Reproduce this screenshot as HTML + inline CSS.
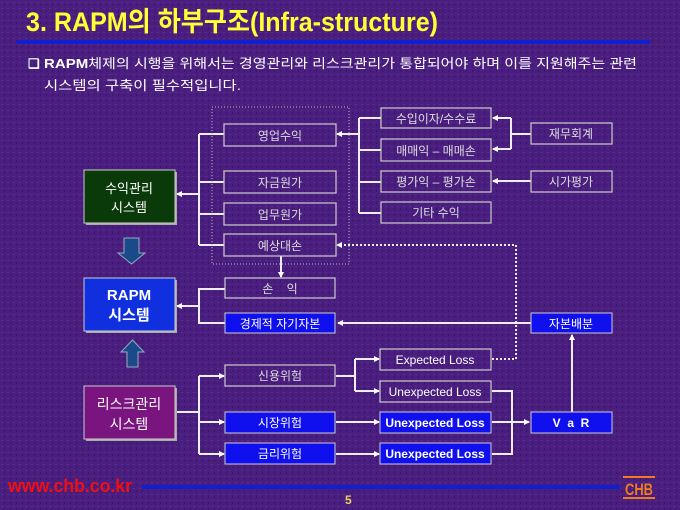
<!DOCTYPE html>
<html><head><meta charset="utf-8"><style>
html,body{margin:0;padding:0;width:680px;height:510px;overflow:hidden;background:#4a1e7e}
svg{display:block}
text{font-family:"Liberation Sans","Noto Sans CJK KR",sans-serif}
</style></head><body>
<svg width="680" height="510" viewBox="0 0 680 510" xmlns="http://www.w3.org/2000/svg">
<defs>
<marker id="a" markerWidth="6" markerHeight="6" refX="5" refY="3" orient="auto" markerUnits="userSpaceOnUse"><path d="M0,0 L6,3 L0,6 z" fill="#fff"/></marker>
<pattern id="n" width="6" height="6" patternUnits="userSpaceOnUse"><rect width="6" height="6" fill="#4a1e7e"/><rect x="1" y="2" width="2" height="1" fill="#5a2e90"/><rect x="4" y="4" width="1" height="2" fill="#3c1468"/></pattern>
</defs>
<rect width="680" height="510" fill="url(#n)"/>
<text x="26" y="31" font-size="27" font-weight="bold" fill="#ffff33" textLength="412" lengthAdjust="spacingAndGlyphs">3. RAPM의 하부구조(Infra-structure)</text>
<rect x="17" y="40" width="633" height="4" fill="#1020d0"/>
<text x="28" y="68" font-size="13" fill="#fff" font-weight="bold">❑</text>
<text x="44" y="68" font-size="13" fill="#fff" textLength="593" lengthAdjust="spacingAndGlyphs"><tspan font-weight="bold">RAPM</tspan>체제의 시행을 위해서는 경영관리와 리스크관리가 통합되어야 하며 이를 지원해주는 관련</text>
<text x="44" y="90" font-size="13" fill="#fff" textLength="197" lengthAdjust="spacingAndGlyphs">시스템의 구축이 필수적입니다.</text>

<g stroke="#eee" stroke-width="2" fill="none">
<path d="M199,134 V245 M199,134 H224 M199,182 H224 M199,214 H224 M199,245 H224"/>
<path d="M199,194 H177" marker-end="url(#a)"/>
<path d="M359,118 V213 M359,118 H381 M359,150 H381 M359,182 H381 M359,213 H381"/>
<path d="M359,134 H337" marker-end="url(#a)"/>
<path d="M531,134 H511 M511,118 V149"/>
<path d="M511,118 H493" marker-end="url(#a)"/>
<path d="M511,149 H493" marker-end="url(#a)"/>
<path d="M531,181 H493" marker-end="url(#a)"/>
<path d="M281,256 V277" marker-end="url(#a)"/>
<path d="M225,289 H199 V323 H225"/>
<path d="M199,306 H177" marker-end="url(#a)"/>
<path d="M531,323 H338" marker-end="url(#a)"/>
<path d="M572,412 V335" marker-end="url(#a)"/>
<path d="M176,412 H199 M199,376 V454"/>
<path d="M199,376 H224" marker-end="url(#a)"/>
<path d="M199,422 H224" marker-end="url(#a)"/>
<path d="M199,454 H224" marker-end="url(#a)"/>
<path d="M336,376 H355 M355,359 V391"/>
<path d="M355,359 H379" marker-end="url(#a)"/>
<path d="M355,391 H379" marker-end="url(#a)"/>
<path d="M336,422 H379" marker-end="url(#a)"/>
<path d="M336,454 H379" marker-end="url(#a)"/>
<path d="M492,391 H512 V454 H492 M512,422 H492"/>
<path d="M512,422 H529" marker-end="url(#a)"/>
</g>
<rect x="212" y="107" width="137" height="157" fill="none" stroke="#bbb" stroke-width="1" stroke-dasharray="1,2"/>
<path d="M492,359 H516 V245 H340" fill="none" stroke="#eee" stroke-width="2" stroke-dasharray="2,2"/>
<path d="M336,245 l6,-3 v6 z" fill="#fff"/>

<g fill="none" stroke="#ccc" stroke-width="1.2">
<rect x="224" y="124" width="112" height="22"/>
<rect x="224" y="171" width="112" height="22"/>
<rect x="224" y="203" width="112" height="22"/>
<rect x="224" y="234" width="112" height="22"/>
<rect x="381" y="108" width="110" height="20"/>
<rect x="381" y="139" width="110" height="22"/>
<rect x="381" y="171" width="110" height="21"/>
<rect x="381" y="202" width="110" height="21"/>
<rect x="531" y="123" width="81" height="21"/>
<rect x="531" y="171" width="81" height="21"/>
<rect x="225" y="278" width="110" height="20"/>
<rect x="225" y="365" width="110" height="21"/>
<rect x="380" y="349" width="111" height="21"/>
<rect x="380" y="381" width="111" height="21"/>
</g>
<g fill="#1010ee" stroke="#ccc" stroke-width="1">
<rect x="225" y="313" width="110" height="20"/>
<rect x="531" y="313" width="81" height="20"/>
<rect x="225" y="412" width="110" height="21"/>
<rect x="225" y="443" width="110" height="21"/>
<rect x="380" y="412" width="111" height="21"/>
<rect x="380" y="443" width="111" height="21"/>
<rect x="531" y="412" width="81" height="21"/>
</g>
<rect x="86" y="172" width="91" height="53" fill="#aaa"/>
<rect x="84" y="170" width="91" height="53" fill="#0a3a0a" stroke="#ccc"/>
<rect x="86" y="280" width="91" height="53" fill="#aaa"/>
<rect x="84" y="278" width="91" height="53" fill="#1030e0" stroke="#ccc"/>
<rect x="86" y="388" width="91" height="53" fill="#aaa"/>
<rect x="84" y="386" width="91" height="53" fill="#7a1580" stroke="#ccc"/>
<path d="M124,238 H139 V253 H145 L131.5,264 L118,253 H124 Z" fill="#1a4a8a" stroke="#9ab" stroke-width="1"/>
<path d="M127,367 H138 V352 H144 L132.5,340 L121,352 H127 Z" fill="#1a4a8a" stroke="#9ab" stroke-width="1"/>

<g font-size="12" fill="#ddd" text-anchor="middle">
<text x="280" y="140">영업수익</text>
<text x="280" y="187">자금원가</text>
<text x="280" y="219">업무원가</text>
<text x="280" y="250">예상대손</text>
<text x="436" y="123">수입이자/수수료</text>
<text x="436" y="155">매매익 – 매매손</text>
<text x="436" y="186">평가익 – 평가손</text>
<text x="436" y="217">기타 수익</text>
<text x="571" y="138">재무회계</text>
<text x="571" y="186">시가평가</text>
<text x="280" y="293">손&#160;&#160;&#160;&#160;익</text>
<text x="280" y="380">신용위험</text>
<text x="435" y="364" fill="#fff">Expected Loss</text>
<text x="435" y="396" fill="#fff">Unexpected Loss</text>
</g>
<g font-size="12" fill="#fff" text-anchor="middle">
<text x="280" y="328">경제적 자기자본</text>
<text x="571" y="328">자본배분</text>
<text x="280" y="427">시장위험</text>
<text x="280" y="458">금리위험</text>
<text x="435" y="427" font-weight="bold">Unexpected Loss</text>
<text x="435" y="458" font-weight="bold">Unexpected Loss</text>
<text x="571" y="427" font-weight="bold">V&#160;&#160;a&#160;&#160;R</text>
<text x="129" y="193" font-size="13">수익관리</text>
<text x="129" y="212" font-size="13">시스템</text>
<text x="129" y="300" font-size="15" font-weight="bold">RAPM</text>
<text x="129" y="320" font-size="15" font-weight="bold">시스템</text>
<text x="129" y="409" font-size="14">리스크관리</text>
<text x="129" y="429" font-size="14">시스템</text>
</g>
<text x="8" y="492" font-size="18" font-weight="bold" fill="#ee1111" textLength="124" lengthAdjust="spacingAndGlyphs">www.chb.co.kr</text>
<rect x="142" y="485" width="478" height="4" fill="#1020d0"/>
<text x="345" y="504" font-size="12" font-weight="bold" fill="#e8d060" font-family="Liberation Serif,serif">5</text>
<rect x="623" y="476" width="32" height="2" fill="#f07a20"/>
<rect x="623" y="497" width="32" height="2" fill="#f07a20"/>
<text x="639" y="495" font-size="17" font-weight="bold" fill="#f07a20" text-anchor="middle" textLength="28" lengthAdjust="spacingAndGlyphs">CHB</text>
</svg>
</body></html>
